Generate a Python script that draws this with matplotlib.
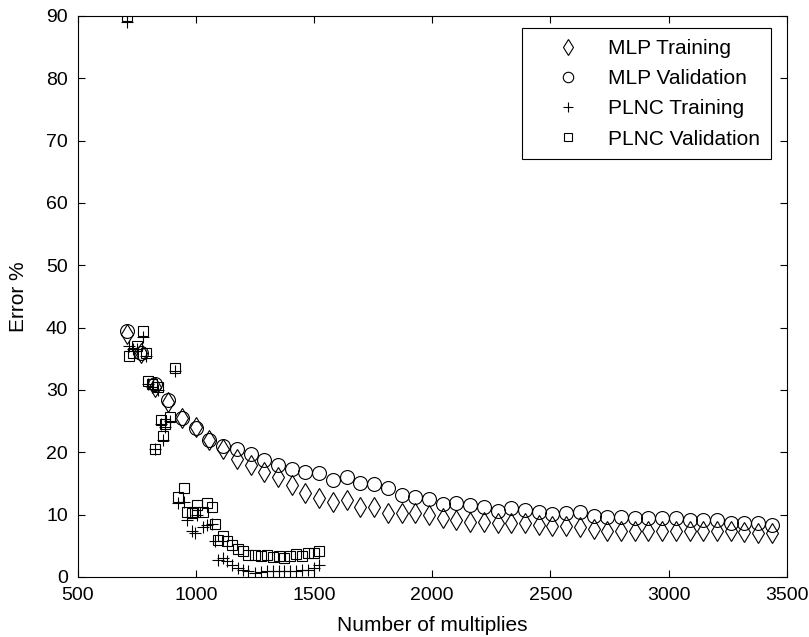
import matplotlib
matplotlib.use('Agg')
import matplotlib.pyplot as plt

# MLP: error vs number of multiplies
mlp_x = [710, 768, 826, 884, 942, 1000, 1058, 1116, 1174, 1232, 1290, 1348,
         1406, 1464, 1522, 1580, 1638, 1696, 1754, 1812, 1870, 1928, 1986, 2044,
         2102, 2160, 2218, 2276, 2334, 2392, 2450, 2508, 2566, 2624, 2682, 2740,
         2798, 2856, 2914, 2972, 3030, 3088, 3146, 3204, 3262, 3320, 3378, 3436]
mlp_train = [39.0, 36.0, 30.5, 28.0, 25.5, 24.0, 22.0, 20.5, 19.0, 18.0,
             16.9, 16.1, 14.8, 13.4, 12.6, 12.1, 12.4, 11.3, 11.3, 10.2,
             10.2, 10.2, 9.9, 9.4, 9.1, 8.9, 8.9, 8.6, 8.6, 8.6,
             8.3, 8.2, 8.2, 8.0, 7.7, 7.4, 7.3, 7.3, 7.3, 7.4,
             7.3, 7.3, 7.3, 7.3, 7.3, 7.2, 7.1, 7.1]
mlp_val = [39.4, 35.9, 31.0, 28.4, 25.5, 23.9, 22.0, 21.0, 20.6, 19.7,
           18.8, 18.0, 17.4, 16.8, 16.7, 15.6, 16.1, 15.0, 14.9, 14.2,
           13.2, 12.9, 12.5, 11.7, 11.8, 11.6, 11.3, 10.6, 11.0, 10.7,
           10.5, 10.1, 10.2, 10.5, 9.8, 9.7, 9.7, 9.4, 9.4, 9.4,
           9.4, 9.1, 9.1, 9.1, 8.7, 8.6, 8.6, 8.3]

# PLNC
plnc_x = [710, 718, 735, 752, 778, 790, 800, 815, 828, 840, 855, 862, 872, 890,
          912, 926, 950, 962, 983, 997, 1004, 1032, 1047, 1068, 1082, 1096, 1117,
          1131, 1152, 1180, 1200, 1222, 1250, 1275, 1300, 1325, 1350, 1375, 1400,
          1425, 1450, 1475, 1500, 1520]
plnc_train = [89.0, 37.0, 36.5, 36.5, 38.5, 35.5, 31.0, 30.5, 20.5, 30.0, 24.5, 22.0,
              24.0, 25.0, 33.0, 11.8, 12.0, 9.1, 7.3, 7.0, 10.0, 8.1, 8.3, 8.5,
              5.7, 2.7, 3.0, 2.5, 1.9, 1.4, 1.1, 0.9, 0.6, 0.8, 0.9, 0.9, 0.9,
              1.0, 1.0, 1.0, 1.1, 1.2, 1.4, 1.9]
plnc_val = [90.0, 35.5, 36.0, 37.0, 39.5, 36.0, 31.5, 31.0, 20.5, 30.5, 25.2, 22.6,
            24.5, 25.7, 33.6, 12.8, 14.2, 10.5, 10.2, 10.4, 11.6, 10.5, 11.9, 11.3,
            8.5, 6.0, 6.5, 5.7, 5.1, 4.5, 4.1, 3.5, 3.5, 3.4, 3.5, 3.2, 3.3,
            3.1, 3.3, 3.7, 3.4, 3.8, 3.8, 4.1]

plt.rcParams['font.family'] = ['Liberation Sans', 'DejaVu Sans']
plt.rcParams['font.size'] = 14

fig = plt.figure(figsize=(8.09, 6.37), dpi=100)
ax = fig.add_axes([0.0958, 0.0942, 0.8770, 0.8807])

kw = dict(linestyle='none', color='black', markerfacecolor='none',
          markeredgewidth=0.8)
ax.plot(mlp_x, mlp_train, marker='d', markersize=10.5, label='MLP Training', **kw)
ax.plot(mlp_x, mlp_val, marker='o', markersize=10, label='MLP Validation', **kw)
ax.plot(plnc_x, plnc_train, marker='+', markersize=9, label='PLNC Training', **kw)
ax.plot(plnc_x, plnc_val, marker='s', markersize=7.5, label='PLNC Validation', **kw)

ax.set_xlim(500, 3500)
ax.set_ylim(0, 90)
ax.set_xticks([500, 1000, 1500, 2000, 2500, 3000, 3500])
ax.set_yticks(range(0, 91, 10))
ax.tick_params(direction='in', top=True, right=True, length=5, width=0.8,
               colors='black', labelsize=14)
ax.tick_params(axis='x', pad=7)
ax.tick_params(axis='y', pad=7)
for s in ax.spines.values():
    s.set_linewidth(0.8)
    s.set_color('black')

ax.set_xlabel('Number of multiplies', fontsize=15, labelpad=9)
ax.set_ylabel('Error %', fontsize=15, labelpad=13)

leg = ax.legend(loc='upper right', bbox_to_anchor=(0.9775, 0.9786),
                borderaxespad=0, fancybox=False, edgecolor='black',
                framealpha=1, handlelength=3.38, handletextpad=0.23,
                labelspacing=0.54, borderpad=0.52, markerscale=0.75,
                fontsize=15)
leg.get_frame().set_linewidth(0.8)

fig.savefig('out.png', dpi=100)
